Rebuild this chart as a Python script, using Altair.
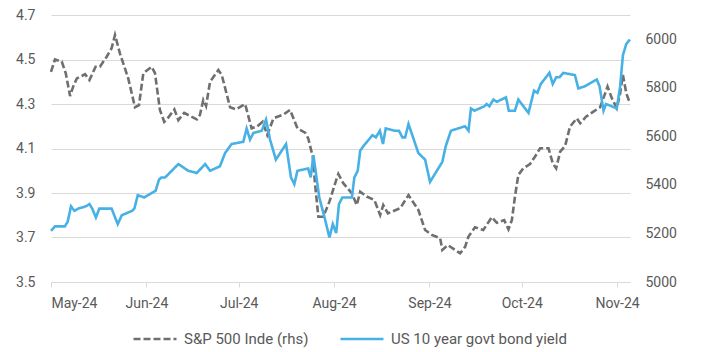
import altair as alt
import pandas as pd

BASE = pd.Timestamp("2024-05-01")

# Days since 2024-05-01 and values
yield_day = [0, 1.3, 4.5, 5.4, 6.5, 7.6, 8.9, 11.3, 12.5, 13.4, 14.6, 15.7, 19.7, 21.7, 23.0,
             26.4, 27.1, 28.2, 30.3, 32.7, 34.0, 35.1, 35.9, 37.1, 41.4, 44.6, 47.4, 50.1, 51.7,
             54.9, 56.6, 58.7, 62.5, 63.6, 64.7, 65.8, 68.5, 69.9, 71.2, 73.1, 76.4, 78.0, 79.1,
             80.1, 83.6, 84.4, 85.3, 87.2, 89.1, 90.5, 91.6, 92.7, 93.6, 94.7, 97.8, 98.6, 99.7,
             100.5, 101.5, 104.5, 105.6, 106.9, 107.9, 108.8, 111.6, 113.1, 114.2, 115.1, 116.2,
             119.4, 121.6, 123.2, 127.2, 128.3, 130.0, 134.6, 135.7, 136.5, 137.6, 140.9, 141.6,
             142.5, 143.8, 144.9, 147.9, 148.8, 150.8, 151.9, 155.2, 157.0, 158.1, 159.2, 162.0,
             163.1, 164.2, 165.3, 166.5, 170.3, 171.4, 173.6, 177.4, 178.3, 179.6, 180.4, 183.9,
             185.0, 185.9, 187.0, 188.2]
yield_val = [3.73, 3.75, 3.75, 3.77, 3.84, 3.82, 3.83, 3.84, 3.85, 3.83, 3.79, 3.83, 3.83, 3.76, 3.80,
             3.82, 3.83, 3.89, 3.88, 3.90, 3.91, 3.96, 3.97, 3.97, 4.03, 4.00, 3.99, 4.03, 4.00,
             4.02, 4.08, 4.12, 4.13, 4.19, 4.14, 4.17, 4.18, 4.23, 4.14, 4.05, 4.12, 3.97, 3.94,
             4.00, 4.01, 3.97, 4.07, 3.88, 3.78, 3.70, 3.76, 3.72, 3.85, 3.88, 3.88, 3.97, 4.00,
             4.09, 4.11, 4.16, 4.15, 4.18, 4.12, 4.19, 4.18, 4.18, 4.15, 4.15, 4.21,
             4.08, 4.05, 3.95, 4.04, 4.11, 4.18, 4.20, 4.18, 4.28, 4.27, 4.29, 4.30,
             4.29, 4.32, 4.31, 4.33, 4.27, 4.27, 4.32, 4.26, 4.36, 4.35, 4.39, 4.44,
             4.39, 4.42, 4.42, 4.44, 4.43, 4.37, 4.38, 4.41, 4.38, 4.27, 4.30, 4.28,
             4.38, 4.52, 4.57, 4.59]

spx_day = [0, 1.3, 3.5, 4.8, 6.2, 7.2, 8.4, 11.1, 12.5, 14.5, 15.9, 18.1, 19.7, 20.8, 22.4, 25.1,
           27.3, 28.6, 30.0, 32.7, 33.8, 35.4, 36.8, 37.9, 40.1, 41.4, 43.3, 44.6, 47.4, 48.4,
           49.5, 50.4, 51.7, 54.4, 55.5, 58.2, 60.1, 63.1, 65.2, 66.9, 68.8, 70.3, 72.3, 73.6,
           75.7, 77.7, 80.1, 82.6, 83.6, 85.1, 85.8, 86.9, 88.5, 90.5, 92.7, 93.4, 95.0, 97.8,
           99.4, 100.5, 102.6, 105.1, 107.0, 108.0, 109.5, 113.5, 116.2, 119.4, 121.6, 123.8,
           126.5, 127.2, 129.0, 133.0, 134.6, 135.7, 137.8, 140.5, 141.6, 143.3, 144.9, 147.3,
           148.7, 149.8, 150.8, 151.9, 153.5, 155.7, 157.3, 159.0, 161.7, 163.1, 164.2, 165.5,
           167.1, 168.7, 170.9, 172.0, 173.9, 176.3, 178.5, 179.8, 180.9, 182.3, 183.9, 185.0,
           185.9, 187.0, 188.2]
spx_val = [5866, 5917, 5908, 5860, 5766, 5805, 5839, 5856, 5832, 5887, 5887, 5928, 5963, 6018, 5942, 5839,
           5720, 5729, 5860, 5887, 5860, 5709, 5660, 5674, 5711, 5667, 5697, 5688, 5670, 5688,
           5750, 5725, 5825, 5873, 5853, 5720, 5711, 5733, 5633, 5640, 5660, 5606, 5674, 5681,
           5691, 5709, 5633, 5615, 5592, 5516, 5407, 5269, 5269, 5331, 5420, 5445, 5407, 5365,
           5317, 5372, 5352, 5338, 5276, 5317, 5283, 5304, 5358, 5297, 5214, 5194,
           5180, 5132, 5152, 5118, 5145, 5187, 5225, 5214, 5235, 5267, 5244, 5255,
           5217, 5255, 5351, 5441, 5468, 5486, 5516, 5551, 5551, 5489, 5468, 5537,
           5560, 5640, 5674, 5654, 5681, 5702, 5720, 5766, 5805, 5757, 5716, 5777,
           5853, 5777, 5736]

month_ticks = ["2024-05-01", "2024-06-01", "2024-07-01", "2024-08-01",
               "2024-09-01", "2024-10-01", "2024-11-01"]
left_ticks = [3.5, 3.7, 3.9, 4.1, 4.3, 4.5, 4.7]
right_ticks = [5000, 5200, 5400, 5600, 5800, 6000]
series_names = ["S&P 500 Inde (rhs)", "US 10 year govt bond yield"]
series_colors = ["#6f6f6f", "#47b1e6"]

FONT = "Roboto"
TXT = "#595959"
GRID = "#d9d9d9"


def to_ms(d):
    return int((BASE + pd.Timedelta(days=d)).value // 10**6)


df_y = pd.DataFrame({"t": [to_ms(d) for d in yield_day], "v": yield_val,
                     "series": series_names[1]})
df_s = pd.DataFrame({"t": [to_ms(d) for d in spx_day], "v": spx_val,
                     "series": series_names[0]})

x_enc = alt.X(
    "t:T",
    scale=alt.Scale(type="utc", domain=[to_ms(0), to_ms(188.2)]),
    axis=alt.Axis(
        values=[int(pd.Timestamp(m).value // 10**6) for m in month_ticks],
        labelExpr="utcFormat(datum.value, '%b-%y')", title=None, grid=False,
        domainColor=GRID, tickColor=GRID, tickSize=5, labelPadding=9,
        labelFont=FONT, labelFontSize=14, labelColor=TXT,
    ),
)

legend = alt.Legend(
    title=None, orient="none", legendX=81, legendY=301, direction="horizontal",
    symbolType="stroke", symbolSize=1850, symbolStrokeWidth=2.5,
    labelFont=FONT, labelFontSize=15, labelColor=TXT, labelOffset=6,
    labelLimit=400, columnPadding=26,
)

color_enc = alt.Color("series:N", scale=alt.Scale(domain=series_names, range=series_colors),
                      legend=legend)
dash_enc = alt.StrokeDash("series:N",
                          scale=alt.Scale(domain=series_names, range=[[7, 3], [1, 0]]),
                          legend=legend)

spx = alt.Chart(df_s).mark_line(strokeWidth=2.6).encode(
    x=x_enc,
    y=alt.Y("v:Q", scale=alt.Scale(domain=[5000, 6100], nice=False, zero=False),
            axis=alt.Axis(orient="right", values=right_ticks, format="d", grid=False,
                          domain=False, ticks=False, labelPadding=15, title=None,
                          labelFont=FONT, labelFontSize=14, labelColor=TXT)),
    color=color_enc,
    strokeDash=dash_enc,
)

yld = alt.Chart(df_y).mark_line(strokeWidth=2.6).encode(
    x=x_enc,
    y=alt.Y("v:Q", scale=alt.Scale(domain=[3.5, 4.7], nice=False, zero=False),
            axis=alt.Axis(orient="left", values=left_ticks, format=".1f", grid=True,
                          gridColor=GRID, domain=False, ticks=False, labelPadding=16,
                          title=None, labelFont=FONT, labelFontSize=14, labelColor=TXT)),
    color=color_enc,
    strokeDash=dash_enc,
)

chart = alt.layer(spx, yld).resolve_scale(y="independent").properties(
    width=579, height=267,
    autosize=alt.AutoSizeParams(type="none"),
    padding={"left": 51, "top": 15, "right": 73, "bottom": 70},
    background="white",
).configure_view(stroke=None)

chart.save("out.html", embed_options={"renderer": "svg", "actions": False})
